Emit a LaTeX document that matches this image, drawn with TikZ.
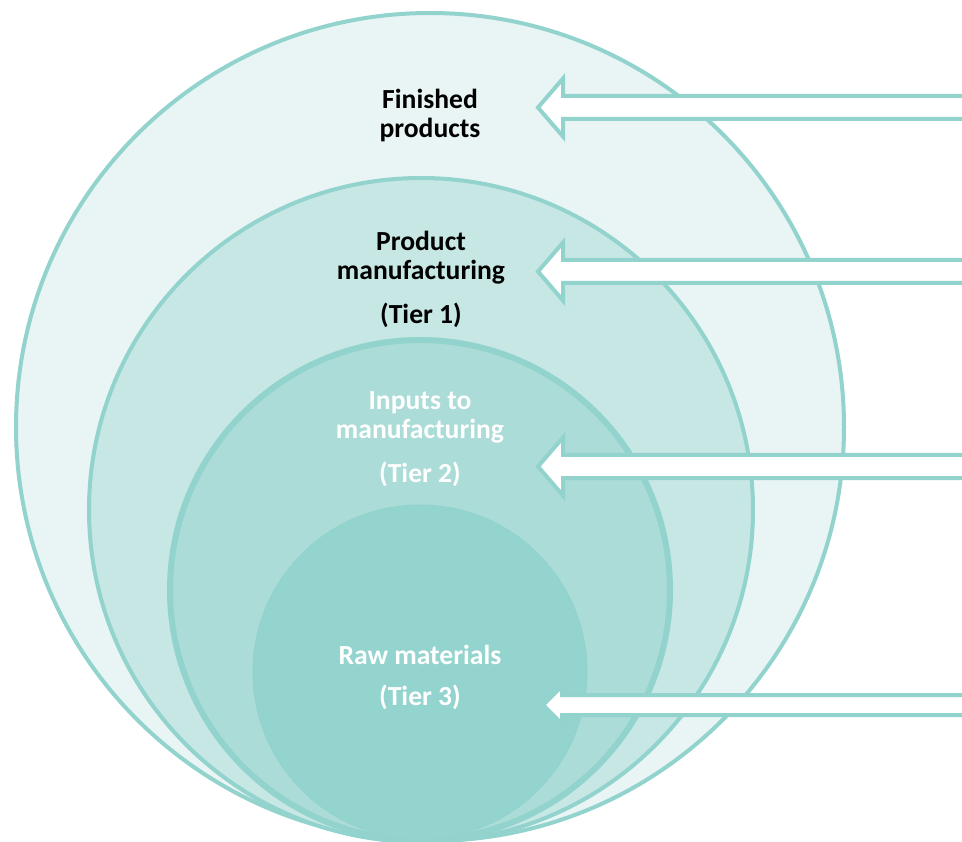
\documentclass[tikz,border=0pt]{standalone}
\usepackage{fontspec}
\setmainfont{Carlito}

\definecolor{ringline}{RGB}{146,211,205}
\definecolor{ringouter}{RGB}{232,245,244}
\definecolor{ringtwo}{RGB}{198,231,228}
\definecolor{ringthree}{RGB}{171,220,215}
\definecolor{ringinner}{RGB}{148,212,206}

\begin{document}
\begin{tikzpicture}[x=1pt,y=-1pt,
  ring/.style={draw=ringline, line width=4pt},
  tierlabel/.style={align=center, font=\bfseries\fontsize{27.6}{29}\selectfont},
  blockarrow/.style={draw=ringline, fill=white, line width=4pt, line join=miter}]
  \useasboundingbox (0,0) rectangle (962,842);
  \clip (0,0) rectangle (962,842);

  % Nested rings, all touching at the bottom
  \draw[ring, fill=ringouter] (430,427) circle [radius=414pt];
  \draw[ring, fill=ringtwo] (421,510) circle [radius=332pt];
  \draw[ring, fill=ringthree, line width=6pt] (420,590) circle [radius=250pt];
  \draw[draw=ringline, fill=ringinner, line width=1pt] (420,672) circle [radius=167pt];

  % Labels
  \node[tierlabel] (finished) at (430,115) {Finished\\products};
  \node[tierlabel] (tierone) at (421,279) {Product\\manufacturing\\[15pt](Tier 1)};
  \node[tierlabel, text=white] (tiertwo) at (420,439) {Inputs to\\manufacturing\\[15pt](Tier 2)};
  \node[tierlabel, text=white] (tierthree) at (420,677) {Raw materials\\[12pt](Tier 3)};

  % Block arrows coming in from the right (y, tip, head length, head and shaft half-heights)
  \foreach \y/\tip/\hl/\hh/\sh in {107.5/538/25/29/11.5, 271.5/538/25/29/11.5,
      466.5/538/25/29/11.5, 705/543/19/19/10} {
    \draw[blockarrow] (\tip,\y) -- ++(\hl,-\hh) -- (\tip+\hl,\y-\sh) -- (975,\y-\sh)
      -- (975,\y+\sh) -- (\tip+\hl,\y+\sh) -- (\tip+\hl,\y+\hh) -- cycle;
  }
\end{tikzpicture}
\end{document}
